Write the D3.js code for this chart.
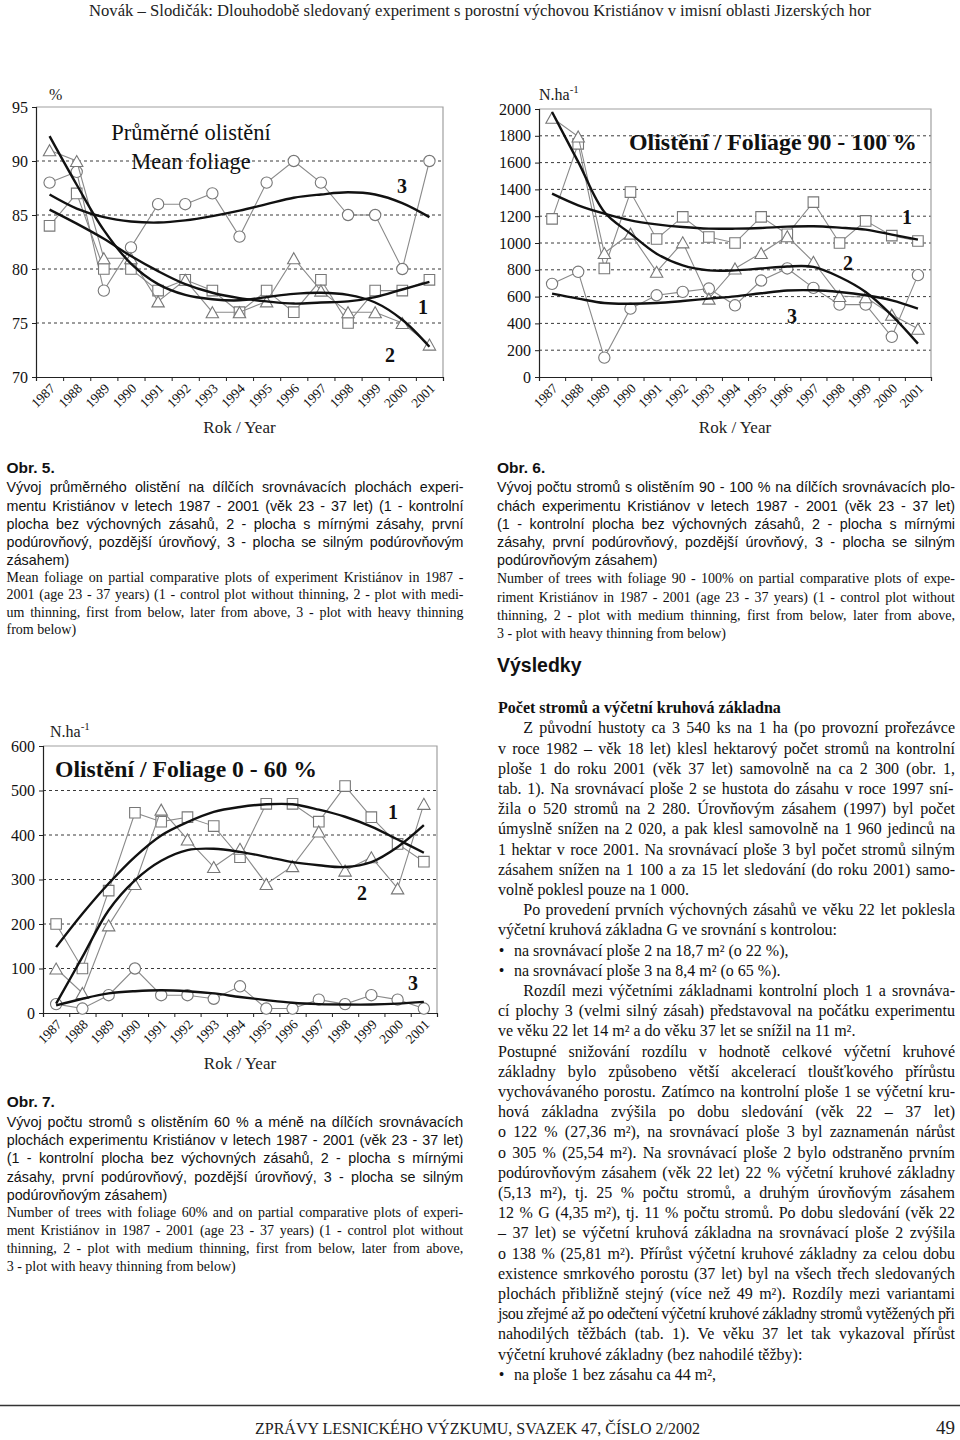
<!DOCTYPE html>
<html><head><meta charset="utf-8">
<script src="https://cdn.jsdelivr.net/npm/d3@7"></script>
<style>body{margin:0;background:#fff}</style>
</head><body>
<svg id="page" width="960" height="1440"></svg>
<script>
// ---------------- DATA ----------------
const years = [1987,1988,1989,1990,1991,1992,1993,1994,1995,1996,1997,1998,1999,2000,2001];

// Obr. 5 – mean foliage (%)
const meanTicks = [70,75,80,85,90,95];
const meanGrid = [75,80,85,90];
const mean1 = [84,87,80,80,78,79,78,76,78,76,79,75,78,78,79];          // squares, plot 1
const mean2 = [91,90,81,81,77,79,76,76,77,81,78,76,76,75,73];          // triangles, plot 2
const mean3 = [88,89,78,82,86,86,87,83,88,90,88,85,85,80,90];          // circles, plot 3
const meanTrend1 = [85.5,84.2,82.8,81.2,79.8,78.6,77.8,77.3,77.0,76.8,76.9,77.0,77.4,78.1,78.8];
const meanTrend2 = [92.3,87.8,83.6,80.5,78.6,77.6,77.2,77.1,77.4,77.7,77.8,77.6,76.9,75.3,72.8];
const meanTrend3 = [86.9,85.6,84.8,84.4,84.3,84.5,84.9,85.4,86.0,86.6,86.9,87.1,86.9,86.1,84.8];

// Obr. 6 – trees with foliage 90–100 % (N/ha)
const highTicks = [0,200,400,600,800,1000,1200,1400,1600,1800,2000];
const highGrid = [200,400,600,800,1000,1200,1400,1600,1800];
const high1 = [1180,1740,810,1380,1030,1195,1045,1000,1195,1065,1305,1000,1165,1055,1015];
const high2 = [1935,1795,925,1070,785,1005,585,810,925,1050,860,605,595,465,360];
const high3 = [695,785,145,510,610,635,660,535,720,810,665,540,540,300,760];
const highTrend1 = [1368,1281,1219,1169,1139,1119,1107,1107,1112,1122,1125,1115,1100,1063,1025];
const highTrend2 = [1978,1605,1231,1070,920,833,796,796,810,825,822,746,634,460,249];
const highTrend3 = [622,585,552,547,552,567,585,602,625,645,647,634,610,572,510];

// Obr. 7 – trees with foliage 0–60 % (N/ha)
const lowTicks = [0,100,200,300,400,500,600];
const lowGrid = [100,200,300,400,500];
const low1 = [200,100,275,450,430,440,420,350,470,470,430,510,440,380,340];
const low2 = [100,45,197,290,457,390,328,369,290,330,408,320,350,280,470];
const low3 = [20,10,40,100,40,40,32,60,10,10,30,20,40,30,10];
const lowTrend1 = [148,223,291,351,399,429,452,463,469,469,457,441,419,390,360];
const lowTrend2 = [21,126,231,298,342,366,369,362,351,339,332,328,339,373,422];
const lowTrend3 = [17,32,44,49,51,49,44,36,29,23,20,19,19,21,25];

// ---------------- TEXT ----------------
const headerText = 'Novák – Slodičák: Dlouhodobě sledovaný experiment s porostní výchovou Kristiánov v imisní oblasti Jizerských hor';
const footerText = 'ZPRÁVY LESNICKÉHO VÝZKUMU, SVAZEK 47, ČÍSLO 2/2002';
const pageNumber = '49';

const cap5cz = [
 ['Vývoj průměrného olistění na dílčích srovnávacích plochách experi-',1],
 ['mentu Kristiánov v letech 1987 - 2001 (věk 23 - 37 let) (1 - kontrolní',1],
 ['plocha bez výchovných zásahů, 2 - plocha s mírnými zásahy, první',1],
 ['podúrovňový, pozdější úrovňový, 3 - plocha se silným podúrovňovým',1],
 ['zásahem)',0]];
const cap5en = [
 ['Mean foliage on partial comparative plots of experiment Kristiánov in 1987 -',1],
 ['2001 (age 23 - 37 years) (1 - control plot without thinning, 2 - plot with medi-',1],
 ['um thinning, first from below, later from above, 3 - plot with heavy thinning',1],
 ['from below)',0]];
const cap6cz = [
 ['Vývoj počtu stromů s olistěním 90 - 100 % na dílčích srovnávacích plo-',1],
 ['chách experimentu Kristiánov v letech 1987 - 2001 (věk 23 - 37 let)',1],
 ['(1 - kontrolní plocha bez výchovných zásahů, 2 - plocha s mírnými',1],
 ['zásahy, první podúrovňový, pozdější úrovňový, 3 - plocha se silným',1],
 ['podúrovňovým zásahem)',0]];
const cap6en = [
 ['Number of trees with foliage 90 - 100% on partial comparative plots of expe-',1],
 ['riment Kristiánov in 1987 - 2001 (age 23 - 37 years) (1 - control plot without',1],
 ['thinning, 2 - plot with medium thinning, first from below, later from above,',1],
 ['3 - plot with heavy thinning from below)',0]];
const cap7cz = [
 ['Vývoj počtu stromů s olistěním 60 % a méně na dílčích srovnávacích',1],
 ['plochách experimentu Kristiánov v letech 1987 - 2001 (věk 23 - 37 let)',1],
 ['(1 - kontrolní plocha bez výchovných zásahů, 2 - plocha s mírnými',1],
 ['zásahy, první podúrovňový, pozdější úrovňový, 3 - plocha se silným',1],
 ['podúrovňovým zásahem)',0]];
const cap7en = [
 ['Number of trees with foliage 60% and on partial comparative plots of experi-',1],
 ['ment Kristiánov in 1987 - 2001 (age 23 - 37 years) (1 - control plot without',1],
 ['thinning, 2 - plot with medium thinning, first from below, later from above,',1],
 ['3 - plot with heavy thinning from below)',0]];

// [text, justify, kind]  kind: 0 normal, 1 indent, 2 bullet
const bodyLines = [
 ['Z původní hustoty ca 3 540 ks na 1 ha (po provozní prořezávce',1,1],
 ['v roce 1982 – věk 18 let) klesl hektarový počet stromů na kontrolní',1,0],
 ['ploše 1 do roku 2001 (věk 37 let) samovolně na ca 2 300 (obr. 1,',1,0],
 ['tab.  1). Na srovnávací ploše 2 se hustota do zásahu v roce 1997 sní-',1,0],
 ['žila o 520 stromů na 2 280. Úrovňovým zásahem (1997) byl počet',1,0],
 ['úmyslně snížen na 2 020, a pak klesl samovolně na 1 960 jedinců na',1,0],
 ['1 hektar v roce 2001. Na srovnávací ploše 3 byl počet stromů silným',1,0],
 ['zásahem snížen na 1 100 a za 15 let sledování (do roku 2001) samo-',1,0],
 ['volně poklesl pouze na 1 000.',0,0],
 ['Po provedení prvních výchovných zásahů ve věku 22 let poklesla',1,1],
 ['výčetní kruhová základna G ve srovnání s kontrolou:',0,0],
 ['na srovnávací ploše 2 na 18,7 m² (o 22 %),',0,2],
 ['na srovnávací ploše 3 na 8,4 m² (o 65 %).',0,2],
 ['Rozdíl mezi výčetními základnami kontrolní ploch 1 a srovnáva-',1,1],
 ['cí plochy 3 (velmi silný zásah) představoval na počátku experimentu',1,0],
 ['ve věku 22 let 14 m² a do věku 37 let se snížil na 11 m².',0,0],
 ['Postupné snižování rozdílu v hodnotě celkové výčetní kruhové',1,0],
 ['základny bylo způsobeno větší akcelerací tloušťkového přírůstu',1,0],
 ['vychovávaného porostu. Zatímco na kontrolní ploše 1 se výčetní kru-',1,0],
 ['hová základna zvýšila po dobu sledování (věk 22 – 37 let)',1,0],
 ['o 122 % (27,36 m²), na srovnávací ploše 3 byl zaznamenán nárůst',1,0],
 ['o 305 % (25,54 m²). Na srovnávací ploše 2 bylo odstraněno prvním',1,0],
 ['podúrovňovým zásahem (věk 22 let) 22 % výčetní kruhové základny',1,0],
 ['(5,13 m²), tj. 25 % počtu stromů, a druhým úrovňovým zásahem',1,0],
 ['12 % G (4,35 m²), tj. 11 % počtu stromů. Po dobu sledování (věk 22',1,0],
 ['– 37 let) se výčetní kruhová základna na srovnávací ploše 2 zvýšila',1,0],
 ['o 138 % (25,81 m²). Přírůst výčetní kruhové základny za celou dobu',1,0],
 ['existence smrkového porostu (37 let) byl na všech třech sledovaných',1,0],
 ['plochách přibližně stejný (více než 49 m²). Rozdíly mezi variantami',1,0],
 ['jsou zřejmé až po odečtení výčetní kruhové základny stromů vytěžených při',1,0],
 ['nahodilých těžbách (tab. 1). Ve věku 37 let tak vykazoval přírůst',1,0],
 ['výčetní kruhové základny (bez nahodilé těžby):',0,0],
 ['na ploše 1 bez zásahu ca 44 m²,',0,2]];

// ---------------- DRAW ----------------
const SERIF = '"Liberation Serif","Times New Roman",serif';
const SANS = '"Liberation Sans",Arial,Helvetica,sans-serif';
const svg = d3.select('#page');
svg.append('rect').attr('width',960).attr('height',1440).attr('fill','#fff');

function textLine(str, x, y, width, justify, family, size, weight) {
  const t = svg.append('text').attr('x',x).attr('y',y)
    .attr('font-family',family).attr('font-size',size)
    .attr('font-weight',weight||'normal').attr('fill','#111').text(str);
  if (justify) {
    let natural = t.node().getComputedTextLength();
    const spaces = (str.match(/ /g)||[]).length;
    if (natural > width) {
      // tighten the spacing between letters instead of overflowing
      const ls = (width - natural) / str.length;
      t.attr('letter-spacing', ls.toFixed(3));
      natural = t.node().getComputedTextLength();
      if (natural > width) t.attr('font-size', (size*width/natural).toFixed(3));
    } else if (spaces > 0) {
      t.attr('word-spacing', ((width-natural)/spaces).toFixed(3));
    }
  }
  return t;
}

function caption(title, cz, en, x, width, yTitle, czBases, enBases) {
  textLine(title, x, yTitle, 0, false, SANS, 15.5, 'bold');
  cz.forEach((l,i)=>textLine(l[0], x, czBases[i], width, l[1], SANS, 14.3));
  en.forEach((l,i)=>textLine(l[0], x, enBases[i], width, l[1], SERIF, 14));
}

function drawChart(cfg) {
  const g = svg.append('g');
  const x = d3.scaleBand().domain(years).range([cfg.left, cfg.right]);
  const y = d3.scaleLinear().domain(cfg.domain).range([cfg.bottom, cfg.top]);
  const cx = d => x(d) + x.bandwidth()/2;

  g.selectAll('line.grid').data(cfg.grid).join('line').attr('class','grid')
    .attr('x1',cfg.left).attr('x2',cfg.right).attr('y1',d=>y(d)).attr('y2',d=>y(d))
    .attr('stroke','#3a3a3a').attr('stroke-width',1).attr('stroke-dasharray','3,3');
  g.append('path').attr('d',`M${cfg.left},${cfg.top}H${cfg.right}V${cfg.bottom}`)
    .attr('fill','none').attr('stroke','#a0a0a0').attr('stroke-width',1.2);

  const yg = g.append('g').attr('transform',`translate(${cfg.left},0)`)
    .call(d3.axisLeft(y).tickValues(cfg.ticks).tickSize(4).tickPadding(4).tickFormat(d3.format('d')));
  yg.select('.domain').attr('stroke','#222').attr('stroke-width',1.2);
  yg.selectAll('.tick line').attr('stroke','#222');
  yg.selectAll('.tick text').attr('font-family',SERIF).attr('font-size',16).attr('fill','#111');

  const xb = d3.scaleLinear().domain([0, years.length]).range([cfg.left, cfg.right]);
  const xg = g.append('g').attr('transform',`translate(0,${cfg.bottom})`)
    .call(d3.axisBottom(xb).tickValues(d3.range(years.length+1)).tickSize(4).tickFormat(''));
  xg.select('.domain').attr('stroke','#222').attr('stroke-width',1.2);
  xg.selectAll('.tick line').attr('stroke','#222');
  g.selectAll('text.xl').data(years).join('text').attr('class','xl')
    .attr('transform',d=>`translate(${cx(d)+3},${cfg.bottom+9}) rotate(-45)`)
    .attr('text-anchor','end').attr('dy','0.35em')
    .attr('font-family',SERIF).attr('font-size',13.5).attr('fill','#111').text(d=>d);
  g.append('text').attr('x',(cfg.left+cfg.right)/2).attr('y',cfg.bottom+56)
    .attr('text-anchor','middle').attr('font-family',SERIF).attr('font-size',17)
    .attr('fill','#222').text('Rok / Year');

  const line = d3.line();
  const marker = {
    square: d3.symbol(d3.symbolSquare, 112)(),
    circle: d3.symbol(d3.symbolCircle, 100)(),
    triangle: 'M0,-5.5L6.2,5.5L-6.2,5.5Z'
  };
  cfg.series.forEach(s => {
    const pts = years.map((yr,i)=>[cx(yr), y(s.values[i])]);
    g.append('path').attr('d',line(pts)).attr('fill','none')
      .attr('stroke','#8a8a8a').attr('stroke-width',1.1);
    g.selectAll(null).data(pts).join('path').attr('d',marker[s.shape])
      .attr('transform',p=>`translate(${p[0]},${p[1]})`)
      .attr('fill','#fff').attr('stroke','#777').attr('stroke-width',1.1);
  });
  const trendLine = d3.line().curve(d3.curveCatmullRom.alpha(0.5));
  cfg.trends.forEach(tv => {
    g.append('path').attr('d',trendLine(years.map((yr,i)=>[cx(yr), y(tv[i])])))
      .attr('fill','none').attr('stroke','#111').attr('stroke-width',2.4);
  });
  cfg.labels.forEach(l => g.append('text').attr('x',l[1]).attr('y',l[2])
    .attr('text-anchor','middle').attr('font-family',SERIF).attr('font-size',20)
    .attr('font-weight','bold').attr('fill','#111').text(l[0]));
  return g;
}

function unitLabel(g, x, y) {
  const t = g.append('text').attr('x',x).attr('y',y).attr('font-family',SERIF)
    .attr('font-size',16).attr('fill','#222');
  t.append('tspan').text('N.ha');
  t.append('tspan').attr('dy',-7).attr('font-size',11).text('-1');
}

// Header
svg.append('text').attr('x',89).attr('y',16).attr('font-family',SERIF).attr('font-size',16)
  .attr('fill','#222').attr('textLength',782).attr('lengthAdjust','spacingAndGlyphs').text(headerText);

// Chart Obr. 5
const g5 = drawChart({left:36,right:443,top:107,bottom:377,domain:[70,95],ticks:meanTicks,grid:meanGrid,
  series:[{values:mean3,shape:'circle'},{values:mean1,shape:'square'},{values:mean2,shape:'triangle'}],
  trends:[meanTrend3,meanTrend1,meanTrend2],
  labels:[['3',402,193],['1',423,314],['2',390,362]]});
g5.append('text').attr('x',49).attr('y',100).attr('font-family',SERIF).attr('font-size',16).attr('fill','#222').text('%');
g5.append('text').attr('x',191).attr('y',140).attr('text-anchor','middle').attr('font-family',SERIF)
  .attr('font-size',22.5).attr('fill','#111').text('Průměrné olistění');
g5.append('text').attr('x',191).attr('y',169).attr('text-anchor','middle').attr('font-family',SERIF)
  .attr('font-size',22.5).attr('fill','#111').text('Mean foliage');

// Chart Obr. 6
const g6 = drawChart({left:539,right:931,top:109,bottom:377,domain:[0,2000],ticks:highTicks,grid:highGrid,
  series:[{values:high3,shape:'circle'},{values:high1,shape:'square'},{values:high2,shape:'triangle'}],
  trends:[highTrend1,highTrend2,highTrend3],
  labels:[['1',907,224],['2',848,270],['3',792,323]]});
unitLabel(g6, 539, 100);
g6.append('text').attr('x',629).attr('y',150).attr('font-family',SERIF).attr('font-size',23)
  .attr('font-weight','bold').attr('fill','#111').attr('textLength',288).attr('lengthAdjust','spacingAndGlyphs')
  .text('Olistění / Foliage 90 - 100 %');

// Chart Obr. 7
const g7 = drawChart({left:43,right:437,top:746,bottom:1013,domain:[0,600],ticks:lowTicks,grid:lowGrid,
  series:[{values:low3,shape:'circle'},{values:low1,shape:'square'},{values:low2,shape:'triangle'}],
  trends:[lowTrend1,lowTrend2,lowTrend3],
  labels:[['1',393,819],['2',362,900],['3',413,990]]});
unitLabel(g7, 50, 737);
g7.append('text').attr('x',55).attr('y',777).attr('font-family',SERIF).attr('font-size',23)
  .attr('font-weight','bold').attr('fill','#111').attr('textLength',262).attr('lengthAdjust','spacingAndGlyphs')
  .text('Olistění / Foliage 0 - 60 %');

// Captions
caption('Obr. 5.', cap5cz, cap5en, 6.5, 457, 473,
  [492.3,510.5,528.7,546.9,564.5],[581.7,599.3,617.3,634]);
caption('Obr. 6.', cap6cz, cap6en, 497, 458, 473.3,
  [492.3,510.7,529,547.3,565],[583.3,601.7,620,638.3]);
caption('Obr. 7.', cap7cz, cap7en, 6.7, 456.5, 1106.7,
  [1126.7,1145,1163.3,1181.7,1199.5],[1217,1235,1253.3,1271]);

// Right column body
textLine('Výsledky', 497, 671.7, 0, false, SANS, 19.5, 'bold');
textLine('Počet stromů a výčetní kruhová základna', 498, 713.3, 0, false, SERIF, 16, 'bold');
bodyLines.forEach((l,k) => {
  const yb = 733.3 + 20.2*k;
  if (l[2] === 2) {
    svg.append('text').attr('x',501.5).attr('y',yb).attr('text-anchor','middle')
      .attr('font-family',SERIF).attr('font-size',16).attr('fill','#111').text('•');
    textLine(l[0], 514, yb, 0, false, SERIF, 16);
  } else {
    const x0 = l[2] === 1 ? 523.3 : 498;
    textLine(l[0], x0, yb, 955 - x0, l[1], SERIF, 16);
  }
});

// Footer
svg.append('line').attr('x1',0).attr('x2',960).attr('y1',1405.5).attr('y2',1405.5)
  .attr('stroke','#333').attr('stroke-width',1.6);
svg.append('text').attr('x',255).attr('y',1434).attr('font-family',SERIF).attr('font-size',16)
  .attr('fill','#222').attr('textLength',445).attr('lengthAdjust','spacingAndGlyphs').text(footerText);
svg.append('text').attr('x',955).attr('y',1434).attr('text-anchor','end').attr('font-family',SERIF)
  .attr('font-size',19).attr('fill','#222').text(pageNumber);
</script>
</body></html>
